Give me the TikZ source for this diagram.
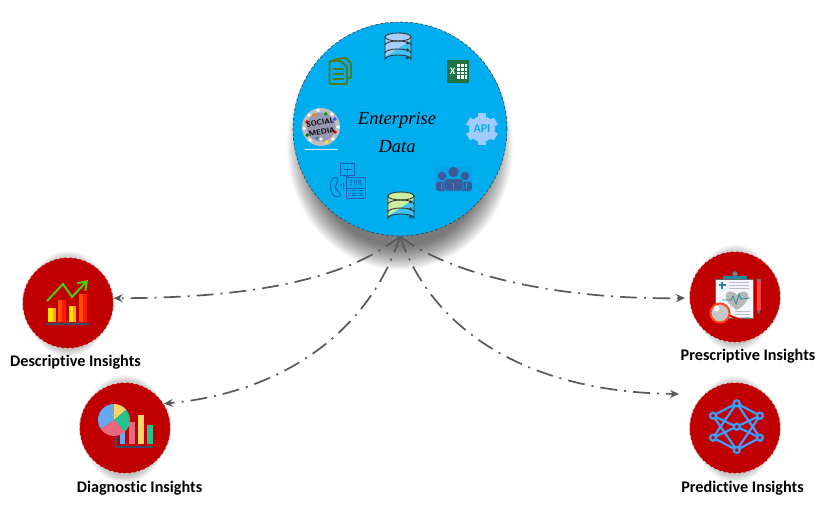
\documentclass[tikz,border=0pt]{standalone}
\usepackage{fontspec}
\setmainfont[Ligatures=NoCommon]{Carlito}
\newfontfamily\entfont{Liberation Serif}
\usetikzlibrary{calc}
\usetikzlibrary{arrows.meta}

\definecolor{entblue}{HTML}{00AEEF}
\definecolor{insred}{HTML}{C00000}
\definecolor{flowgray}{HTML}{595959}
\definecolor{netblue}{HTML}{3D9DFF}
\definecolor{axisblue}{HTML}{3B4A6B}
\definecolor{docgreen}{HTML}{4F7A1E}
\definecolor{ivrblue}{HTML}{1F5FBF}
\definecolor{peopleblue}{HTML}{3C5A9A}
\definecolor{xlgreen}{HTML}{217346}
\definecolor{piegold}{HTML}{FFD466}
\definecolor{piegreen}{HTML}{22C38E}
\definecolor{piepink}{HTML}{E8687E}
\definecolor{pieblue}{HTML}{64A8F0}
\definecolor{clipteal}{HTML}{1F8A9E}
\definecolor{dbblue}{HTML}{A6D0FA}
\definecolor{dbgreen}{HTML}{C8F0A0}
\definecolor{gearblue}{HTML}{A0CBFF}

\tikzset{
 entcircle/.style={circle, draw=black!75, densely dashed, line width=.6, fill=entblue, minimum size=214, inner sep=0, align=center},
 inscircle/.style={circle, draw=white!85!black, densely dashed, line width=.8, fill=insred, minimum size=91, inner sep=0},
 inslabel/.style={font=\bfseries\fontsize{16.2}{18}\selectfont, inner sep=0},
 flow/.style={draw=flowgray, line width=1.7, dash pattern=on 17 off 7 on 2 off 7, -{Stealth[length=9,width=8]}},
 dbline/.style={draw=black!80, line width=.9},
}

% soft shadow under a circle
\newcommand{\softshadow}[5]{
 \foreach \d in {1,...,#4}
  \fill[black, opacity=#5] (#1,#2) ellipse ({#3-11+\d} and {#3+\d});
}

% database drum, centre x, top y, colour
\newcommand{\dbicon}[3]{
 \begin{scope}[shift={(#1,#2)}]
 \fill[entblue!75!white] (-13,4) -- (-13,26) arc (180:360:13 and 4) -- (13,4) -- cycle;
 \fill[#3] (13,4) -- (13,7) -- (-13,24) -- (-13,4) -- cycle;
 \fill[#3] (0,4) ellipse (13 and 4);
 \draw[dbline] (0,4) ellipse (13 and 4);
 \draw[dbline] (-13,4) -- (-13,26) arc (180:360:13 and 4) -- (13,4);
 \draw[dbline] (-13,12) arc (180:360:13 and 4);
 \draw[dbline] (-13,20) arc (180:360:13 and 4);
 \foreach \y in {10,17,25} \draw[black!80, line width=.6] (9.5,\y) circle (1.1);
 \end{scope}
}

\begin{document}
\begin{tikzpicture}[x=1pt, y=-1pt]
\useasboundingbox (0,0) rectangle (824,506);
\fill[white] (0,0) rectangle (824,506);

% shadows
\softshadow{400}{146}{100}{24}{.028}
\softshadow{68}{304}{45}{8}{.03}
\softshadow{125}{429}{46}{8}{.03}
\softshadow{735}{298}{45}{8}{.03}
\softshadow{735}{429}{45}{8}{.03}

% circles
\node[entcircle] (ent) at (400,129) {};
\node[inscircle] (desc) at (68,303) {};
\node[inscircle] (diag) at (125,428) {};
\node[inscircle] (pres) at (735,297) {};
\node[inscircle] (pred) at (735,428) {};

\node[font=\entfont\itshape\fontsize{18.5}{28}\selectfont, align=center] (enttext) at (397,132) {Enterprise\\Data};

\node[inslabel] (desclabel) at (75.5,362) {Descriptive Insights};
\node[inslabel] (diaglabel) at (139.5,488) {Diagnostic Insights};
\node[inslabel] (preslabel) at (748,356) {Prescriptive Insights};
\node[inslabel] (predlabel) at (742.5,488) {Predictive Insights};

% connectors
\coordinate (prestip) at (685,298);
\coordinate (predtip) at (679,394);
\draw[flow] (ent.south) .. controls (340,285) and (230,298) .. (desc.6);
\draw[flow] (ent.south) .. controls (372,325) and (290,392) .. (diag.32);
\draw[flow] (ent.south) .. controls (450,275) and (560,300) .. (prestip);
\draw[flow] (ent.south) .. controls (430,325) and (520,392) .. (predtip);

% database icons
\dbicon{398}{33}{dbblue}
\dbicon{401}{192}{dbgreen}

% excel
\fill[xlgreen] (447,60) rectangle (469,83);
\fill[white] (457,64) rectangle (467,79);
\foreach \x in {460.5,464} \draw[xlgreen, line width=.6] (\x,64) -- (\x,79);
\foreach \y in {67.5,71,74.5} \draw[xlgreen, line width=.6] (457,\y) -- (467,\y);
\node[font=\bfseries\fontsize{10}{10}\selectfont, text=white, inner sep=0] (xl) at (452.5,71.5) {X};

% documents
\draw[docgreen, line width=1.9, rounded corners=1] (333,60) -- (345,57.5) -- (351,63) -- (351,78) -- (347,78);
\draw[docgreen, line width=1.9, fill=entblue, rounded corners=1] (329.5,61) -- (341,61) -- (347,67) -- (347,84) -- (329.5,84) -- cycle;
\foreach \y in {69,74,79} \draw[docgreen, line width=1.6] (333,\y) -- (344,\y);

% social media
\fill[black!25!white] (321,127) circle (19);
\fill[blue!15!gray!70!white] (321,127) circle (14.5);
\foreach \a/\r/\c in {20/15/red,70/16/yellow,110/12/cyan!60!black,150/16/green!50!black,200/15/red,240/14/orange,290/14/green!60!black,330/16/blue!70!white,0/17/white,130/17/white,260/17/white,45/17/white,175/17/white,310/17/white,225/17/white,90/12/white}
 \fill[\c] ($(321,127)+(\a:\r)$) circle (1.9);
\draw[white!80!entblue, line width=1] (305,149) -- (338,149);
\node[font=\bfseries\sffamily\fontsize{7.5}{9.5}\selectfont, rotate=10, align=center, inner sep=0] (soc) at (321,127) {SOCIAL\\MEDIA};

% api gear
\fill[gearblue] (482,129) circle (13);
\foreach \a in {30,90,...,330}
 \fill[gearblue, rotate around={\a:(482,129)}] (493,125) rectangle (498,133);
\node[font=\bfseries\fontsize{12}{12}\selectfont, text=entblue, inner sep=0] (api) at (482,129) {API};

% people
\fill[entblue!88!peopleblue] (435,167) rectangle (472,191);
\fill[peopleblue] (453.5,172) circle (5.2);
\fill[peopleblue] (442,176) circle (4.3);
\fill[peopleblue] (465,176) circle (4.3);
\fill[peopleblue, rounded corners=3] (436,191) -- (436,181.5) -- (448,181.5) -- (448,191) -- cycle;
\fill[peopleblue, rounded corners=3] (459,191) -- (459,181.5) -- (472,181.5) -- (472,191) -- cycle;
\fill[peopleblue, draw=entblue!88!peopleblue, line width=.6, rounded corners=3] (444,191) -- (444,178.5) -- (463,178.5) -- (463,191) -- cycle;
\foreach \x in {441,453.5,466} \draw[entblue, line width=1] (\x,183) -- (\x,188.5);

% ivr
\begin{scope}[ivrblue, line width=1]
\draw (340,163) rectangle (354,175);
\draw (345,175) -- (347,178) -- (349,175);
\draw (347,165.5) -- (347,172.5) (343.5,169) -- (350.5,169);
\draw[rounded corners=2] (337,177) -- (332,178) -- (330,187) -- (333,196) -- (340,197) -- (340,192) -- (336,190) -- (335,186) -- (338,182) -- cycle;
\draw (341,184) arc (-30:30:3) (343,182.5) arc (-30:30:6);
\draw (346,177) rectangle (365,198);
\draw (346,188) -- (365,188);
\foreach \y in {190.5,193,195.5} \draw[line width=.7, dash pattern=on 1.5 off .8] (347.5,\y) -- (363.5,\y);
\node[font=\bfseries\ttfamily\fontsize{8.5}{8.5}\selectfont, text=ivrblue, inner sep=0] (ivr) at (355.5,182.5) {IVR};
\end{scope}

% descriptive icon
\foreach \xa/\xm/\xb/\t/\ca/\cb in {48/53/56/308/yellow!85!orange/orange!70!yellow,58/62/66/300/orange!60!red/red!80!orange,69/73/76/306/yellow!85!orange/orange!70!yellow,79/83/87/294/orange!60!red/red!80!orange}{
 \fill[\ca] (\xa,\t) rectangle (\xm,322);
 \fill[\cb] (\xm,\t) rectangle (\xb,322);
}
\draw[axisblue, line width=2] (46,323.5) -- (89,323.5);
\draw[green!70!yellow!85!black, line width=1.9, -{Straight Barb[length=8,width=11]}] (47,301) -- (63,284) -- (72,297) -- (88,280);

% diagnostic icon
\fill[pieblue] (120,430) rectangle (125,444);
\fill[piepink] (129,422) rectangle (135,444);
\fill[piegold] (138,415) rectangle (144,444);
\fill[piegreen] (147,425) rectangle (153,444);
\draw[axisblue, line width=1.7] (116,437) -- (116,447) -- (153,447);
\fill[pieblue] (114,420) -- (114,404) arc (-90:-214:16) -- cycle;
\fill[piegold] (114,420) -- (114,404) arc (-90:-40:16) -- cycle;
\fill[piegreen] (114,420) -- ($(114,420)+(-40:16)$) arc (-40:47:16) -- cycle;
\fill[piepink] (114,420) -- ($(114,420)+(47:16)$) arc (47:146:16) -- cycle;

% prescriptive icon
\fill[black!60] (715,278.5) rectangle (754,319);
\fill[blue!4!white] (716.2,279.7) rectangle (752.8,318);
\fill[clipteal] (723,275.5) rectangle (747,278.5);
\draw[clipteal, line width=1.1, fill=insred!60!white] (735,274) circle (2.3);
\draw[clipteal, line width=1.4] (722,281.5) -- (722,288.5) (718.5,285) -- (725.5,285);
\foreach \y in {282,285,288} \draw[black!25, line width=.7] (729,\y) -- (749,\y);
\fill[black!28] (737,310) .. controls (722,301) and (724,291) .. (731,291.5) .. controls (734,291.5) and (736.5,294) .. (737,295) .. controls (737.5,294) and (740,291.5) .. (743,291.5) .. controls (750,291) and (752,301) .. (737,310) -- cycle;
\draw[clipteal, line width=.8] (722,300) -- (731,300) -- (733,296) -- (736,304) -- (739,294) -- (741,299) -- (750,298);
\foreach \y in {311,314,317} \draw[black!25, line width=.7] (735,\y) -- (750,\y);
\draw[red!80!black, line width=2.2, line cap=round] (728,315) -- (743,321);
\draw[red!60!orange!90!white, line width=2, fill=black!22] (720,313) circle (9.5);
\fill[white] (716.5,308.5) circle (3);
\fill[red!75!white] (757,281) rectangle (760.5,310);
\fill[black!55] (757,279) rectangle (760.5,281);
\fill[black!60] (757,310) -- (760.5,310) -- (758.7,315) -- cycle;

% predictive icon
\foreach \n/\x/\y in {ptop/736.7/403.3,pul/713/415.7,pur/760/415.7,pc/736.7/426.7,pll/713/437.7,plr/760/437.7,pbot/736.7/450}
 \coordinate (\n) at (\x,\y);
\draw[netblue, line width=2.2] (ptop) -- (pul) (ptop) -- (pur) (ptop) -- (pll) (ptop) -- (plr)
 (pbot) -- (pll) (pbot) -- (plr) (pbot) -- (pul) (pbot) -- (pur)
 (pul) -- (plr) (pur) -- (pll);
\foreach \n in {ptop,pul,pur,pc,pll,plr,pbot}
 \draw[netblue, line width=2.2, fill=insred] (\n) circle (3);
\end{tikzpicture}
\end{document}
